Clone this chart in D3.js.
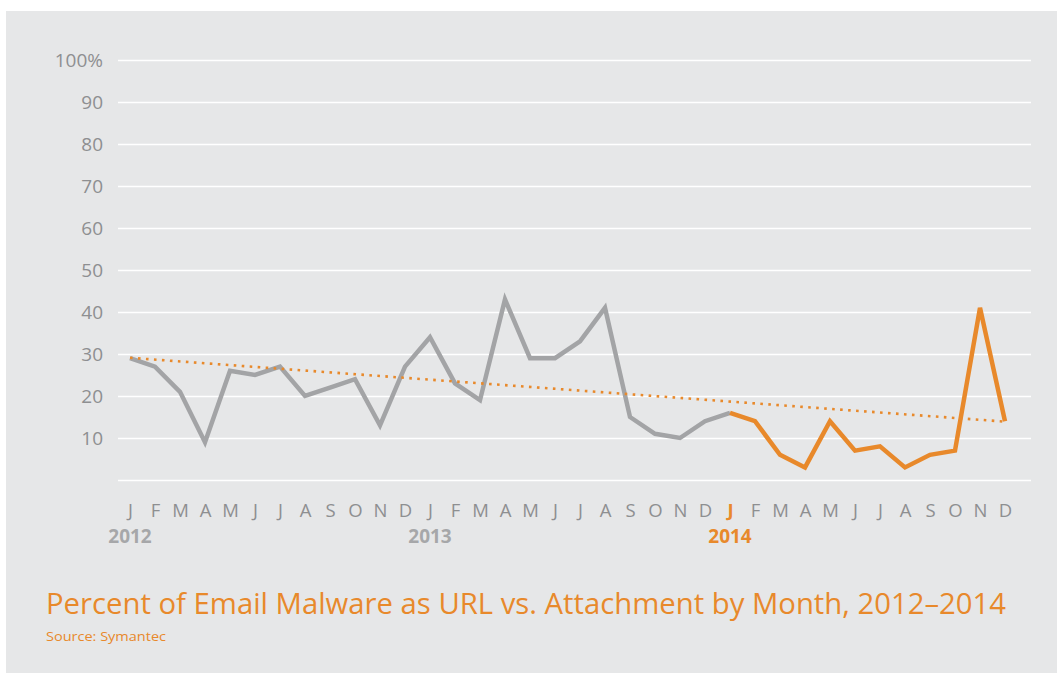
<!DOCTYPE html>
<html>
<head>
<meta charset="utf-8">
<script src="https://cdn.jsdelivr.net/npm/d3@7"></script>
<style>
  html, body { margin: 0; padding: 0; background: #ffffff; }
  svg { display: block; }
  text { font-family: "Open Sans", "Noto Sans", sans-serif; }
</style>
</head>
<body>
<svg id="chart" width="1057" height="673"></svg>
<script>
// Months along the x axis (three calendar years)
const monthLetters = ["J", "F", "M", "A", "M", "J", "J", "A", "S", "O", "N", "D"];
const years = ["2012", "2013", "2014"];
const highlightYear = "2014";

// Percent of email malware delivered as URL, Jan 2012 – Dec 2014
const values2012 = [29, 27, 21, 9, 26, 25, 27, 20, 22, 24, 13, 27];
const values2013 = [34, 23, 19, 43, 29, 29, 33, 41, 15, 11, 10, 14];
const values2014 = [16, 14, 6, 3, 14, 7, 8, 3, 6, 7, 41, 14];

// Linear trend, value at the first and last month
const trendEnds = [29.1, 13.9];

const yTicks = [0, 10, 20, 30, 40, 50, 60, 70, 80, 90, 100];

const titleText = "Percent of Email Malware as URL vs. Attachment by Month, 2012\u20132014";
const sourceText = "Source: Symantec";

const GRAY_LINE = "#a3a4a6";
const ORANGE = "#e8892b";
const TICK_TEXT = "#8e8f91";
const PANEL = "#e6e7e8";

// Build the month table
const months = [];
years.forEach((yr, yi) => {
  const vals = [values2012, values2013, values2014][yi];
  monthLetters.forEach((m, mi) => {
    months.push({ idx: yi * 12 + mi, letter: m, year: yr, first: mi === 0, value: vals[mi] });
  });
});
const hlStart = years.indexOf(highlightYear) * 12;

const svg = d3.select("#chart");

// Background panel
svg.append("rect")
  .attr("x", 6).attr("y", 11)
  .attr("width", 1051).attr("height", 662)
  .attr("fill", PANEL);

const x = d3.scalePoint()
  .domain(months.map(d => d.idx))
  .range([130, 1005]);

const y = d3.scaleLinear()
  .domain([0, 100])
  .range([480, 60]);

const gridLeft = 118, gridRight = 1031;

// Horizontal gridlines and value labels
const yAxis = d3.axisLeft(y)
  .tickValues(yTicks)
  .tickSize(-(gridRight - gridLeft))
  .tickPadding(15)
  .tickFormat(v => v === 0 ? "" : (v === 100 ? "100%" : String(v)));

const gy = svg.append("g")
  .attr("transform", `translate(${gridLeft},0)`)
  .call(yAxis);
gy.select(".domain").remove();
gy.selectAll(".tick line")
  .attr("stroke", "#ffffff")
  .attr("stroke-width", 1.6);
gy.selectAll(".tick text")
  .attr("fill", TICK_TEXT)
  .attr("font-size", 19)
  .attr("font-weight", 400)
  .attr("dy", "0.36em");

// Month letters
const xAxis = d3.axisBottom(x)
  .tickSize(0)
  .tickPadding(0)
  .tickFormat(i => months[i].letter);
const gx = svg.append("g")
  .attr("transform", "translate(0,517)")
  .call(xAxis);
gx.select(".domain").remove();
gx.selectAll(".tick text")
  .attr("dy", 0)
  .attr("font-size", 18.5)
  .attr("fill", i => i === hlStart ? ORANGE : TICK_TEXT)
  .attr("font-weight", i => i === hlStart ? 700 : 400);

// Year labels under each January
svg.append("g")
  .selectAll("text")
  .data(months.filter(d => d.first))
  .join("text")
  .attr("x", d => x(d.idx))
  .attr("y", 543)
  .attr("text-anchor", "middle")
  .attr("font-size", 19)
  .attr("font-weight", 700)
  .attr("fill", d => d.year === highlightYear ? ORANGE : "#a6a7a9")
  .text(d => d.year);

const line = d3.line()
  .x(d => x(d.idx))
  .y(d => y(d.value));

// Earlier months in gray, through the first highlighted month
svg.append("path")
  .datum(months.slice(0, hlStart + 1))
  .attr("d", line)
  .attr("fill", "none")
  .attr("stroke", GRAY_LINE)
  .attr("stroke-width", 4.5)
  .attr("stroke-linejoin", "miter");

// Highlighted year in orange
svg.append("path")
  .datum(months.slice(hlStart))
  .attr("d", line)
  .attr("fill", "none")
  .attr("stroke", ORANGE)
  .attr("stroke-width", 4.5)
  .attr("stroke-linejoin", "miter");

// Dotted trend line
const trendPts = [
  { idx: months[0].idx, value: trendEnds[0] },
  { idx: months[months.length - 1].idx, value: trendEnds[1] }
];
svg.append("path")
  .datum(trendPts)
  .attr("d", line)
  .attr("fill", "none")
  .attr("stroke", ORANGE)
  .attr("stroke-width", 2.6)
  .attr("stroke-dasharray", "2.6,5.4");

// Title and source
svg.append("text")
  .attr("x", 46)
  .attr("y", 614)
  .attr("font-size", 30)
  .attr("fill", ORANGE)
  .attr("textLength", 960)
  .attr("lengthAdjust", "spacingAndGlyphs")
  .text(titleText);

svg.append("text")
  .attr("x", 46)
  .attr("y", 641)
  .attr("font-size", 13.5)
  .attr("fill", ORANGE)
  .attr("textLength", 120)
  .attr("lengthAdjust", "spacingAndGlyphs")
  .text(sourceText);
</script>
</body>
</html>
